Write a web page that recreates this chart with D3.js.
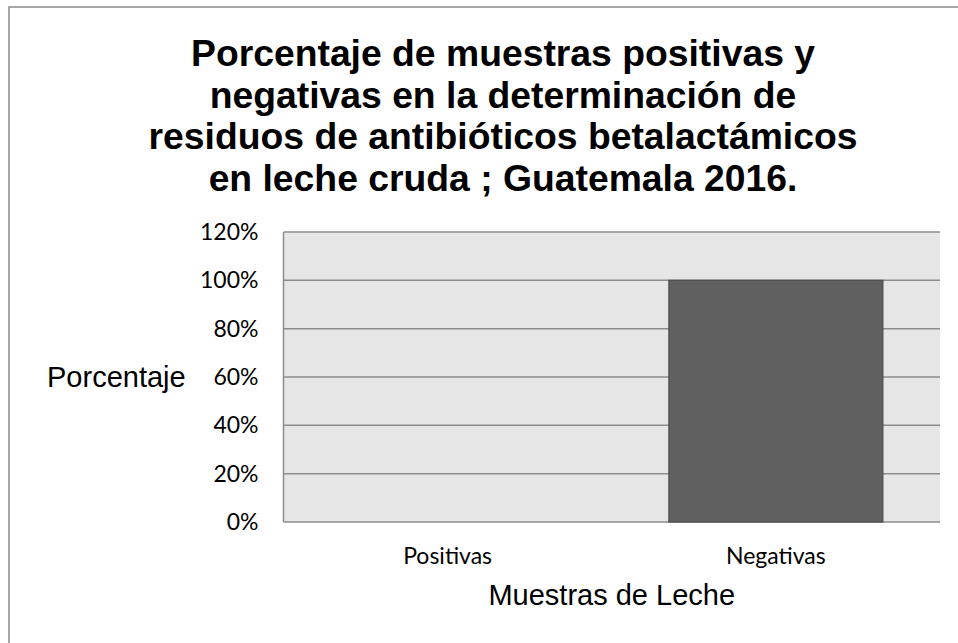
<!DOCTYPE html>
<html>
<head>
<meta charset="utf-8">
<script src="https://cdn.jsdelivr.net/npm/d3@7"></script>
<style>
  body { margin: 0; background: #fff; }
  svg { display: block; }
</style>
</head>
<body>
<div id="chart"></div>
<script>
var categories = ['Positivas', 'Negativas'];
var values = [0, 1];
var yTicks = [0, 0.2, 0.4, 0.6, 0.8, 1, 1.2];
var titleLines = ['Porcentaje de muestras positivas y',
                  'negativas en la determinación de',
                  'residuos de antibióticos betalactámicos',
                  'en leche cruda ; Guatemala 2016.'];

var W = 958, H = 643;
var plot = {left: 283.5, right: 940, top: 232, bottom: 522};

var svg = d3.select('#chart')
    .append('svg')
    .attr('width', W)
    .attr('height', H);

// outer frame (runs off right/bottom edge)
svg.append('rect')
    .attr('x', 9).attr('y', 7)
    .attr('width', 980).attr('height', 660)
    .attr('fill', '#fff')
    .attr('stroke', '#8a8a8a')
    .attr('stroke-width', 1.5);

// title
svg.append('g')
    .selectAll('text')
    .data(titleLines)
    .enter()
    .append('text')
    .attr('x', 503)
    .attr('y', function(d, i){ return 66 + i * 41.7 })
    .attr('text-anchor', 'middle')
    .style('font-family', '"Liberation Sans", Arial, sans-serif')
    .style('font-weight', 'bold')
    .style('font-size', '37.3px')
    .attr('fill', '#000')
    .text(function(d){ return d });

var x = d3.scaleBand()
    .domain(categories)
    .range([plot.left, plot.right])
    .paddingInner(0.348)
    .paddingOuter(0.174);

var y = d3.scaleLinear()
    .domain([0, 1.2])
    .range([plot.bottom, plot.top]);

// plot background
svg.append('rect')
    .attr('x', plot.left).attr('y', plot.top)
    .attr('width', plot.right - plot.left)
    .attr('height', plot.bottom - plot.top)
    .attr('fill', '#e6e6e6');

// gridlines
svg.append('g')
    .selectAll('line')
    .data(yTicks)
    .enter()
    .append('line')
    .attr('x1', plot.left).attr('x2', plot.right)
    .attr('y1', function(d){ return y(d) })
    .attr('y2', function(d){ return y(d) })
    .attr('stroke', '#8c8c8c')
    .attr('stroke-width', 1.5);

// bars
svg.append('g')
    .selectAll('rect')
    .data(values)
    .enter()
    .append('rect')
    .attr('x', function(d, i){ return x(categories[i]) })
    .attr('y', function(d){ return y(d) })
    .attr('width', x.bandwidth())
    .attr('height', function(d){ return y(0) - y(d) })
    .attr('fill', '#606060')
    .attr('stroke', function(d){ return d > 0 ? '#4f4f4f' : 'none' })
    .attr('stroke-width', 1.2);

// y axis line
svg.append('line')
    .attr('x1', plot.left).attr('x2', plot.left)
    .attr('y1', plot.top).attr('y2', plot.bottom)
    .attr('stroke', '#8c8c8c')
    .attr('stroke-width', 1.5);

// y tick labels
var yAxis = d3.axisLeft(y)
    .tickValues(yTicks)
    .tickFormat(d3.format('.0%'))
    .tickSize(0)
    .tickPadding(25);
var gy = svg.append('g')
    .attr('transform', 'translate(' + plot.left + ',0)')
    .call(yAxis);
gy.select('.domain').remove();
gy.selectAll('text')
    .style('font-family', 'Lato, "Open Sans", sans-serif')
    .style('font-size', '23px')
    .attr('fill', '#000');

// x labels
var xAxis = d3.axisBottom(x).tickSize(0).tickPadding(26);
var gx = svg.append('g')
    .attr('transform', 'translate(0,' + plot.bottom + ')')
    .call(xAxis);
gx.select('.domain').remove();
gx.selectAll('text')
    .style('font-family', 'Lato, "Open Sans", sans-serif')
    .style('font-size', '23px')
    .attr('fill', '#000');

// axis titles
svg.append('text')
    .attr('x', 47).attr('y', 387)
    .style('font-family', '"Liberation Sans", Arial, sans-serif')
    .style('font-size', '29px')
    .attr('fill', '#000')
    .text('Porcentaje');

svg.append('text')
    .attr('x', (plot.left + plot.right) / 2).attr('y', 605)
    .attr('text-anchor', 'middle')
    .style('font-family', '"Liberation Sans", Arial, sans-serif')
    .style('font-size', '29px')
    .attr('fill', '#000')
    .text('Muestras de Leche');
</script>
</body>
</html>
